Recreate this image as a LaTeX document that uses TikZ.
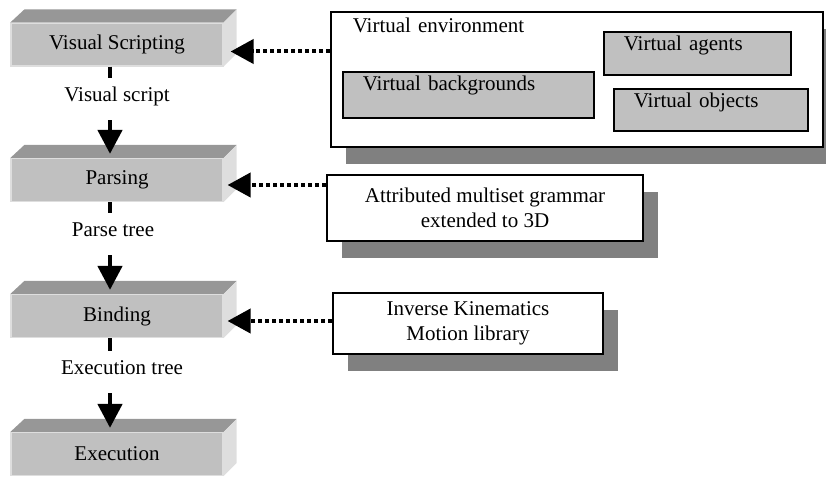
\documentclass[tikz,border=0pt]{standalone}
\usepackage{fontspec}
\setmainfont{Liberation Serif}
\usetikzlibrary{arrows.meta,shadows}
\definecolor{barfront}{HTML}{C0C0C0}
\definecolor{bartop}{HTML}{979797}
\definecolor{barside}{HTML}{DEDEDE}
\definecolor{shadowgray}{HTML}{808080}
\tikzset{
  stage/.style={fill=barfront,draw=barside,line width=1.2pt,minimum width=212pt,minimum height=43pt,inner sep=0pt},
  flowlabel/.style={anchor=north,inner xsep=2pt,inner ysep=8pt,text height=15pt,text depth=11pt},
  flow/.style={line width=4.5pt,-{Triangle[length=24pt,width=24pt]}},
  stub/.style={line width=4.5pt},
  refarrow/.style={line width=4pt,dash pattern=on 4pt off 3pt,-{Triangle[length=23pt,width=24pt]}},
  refbox/.style={draw,fill=white,line width=1.6pt,align=center,inner sep=0pt,
    drop shadow={shadow xshift=15pt,shadow yshift=-17pt,fill=shadowgray,opacity=1}},
  partbox/.style={draw,fill=barfront,line width=1.6pt,anchor=north west,align=left,
    inner xsep=20pt,inner ysep=4pt,text height=15pt},
}
\begin{document}
\begin{tikzpicture}[x=1pt,y=1pt,font=\fontsize{21}{25}\selectfont]
\useasboundingbox (0,0) rectangle (826,-476);
% stages
\node[stage] (vs) at (117,-44.5) {Visual Scripting};
\node[stage] (pa) at (117,-180) {Parsing};
\node[stage] (bi) at (117,-316) {Binding};
\node[stage] (ex) at (117,-454) {Execution};
\foreach \n in {vs,pa,bi,ex}{
  \fill[bartop] (\n.north west) -- ++(14,13) -- ([shift={(13,13)}]\n.north east) -- (\n.north east) -- cycle;
  \fill[barside] (\n.north east) -- ++(13,13) -- ([shift={(13,13)}]\n.south east) -- (\n.south east) -- cycle;
}
% data between stages
\coordinate (axis) at (110,0);
\node[flowlabel] (vsl) at (117,-78) {Visual script};
\node[flowlabel] (pal) at (113,-213) {Parse tree};
\node[flowlabel] (bil) at (122,-351) {Execution tree};
\draw[stub] (vs.south -| axis) -- (vsl.north -| axis);
\draw[flow] (vsl.south -| axis) -- ([yshift=4pt]pa.north -| axis);
\draw[stub] (pa.south -| axis) -- (pal.north -| axis);
\draw[flow] (pal.south -| axis) -- ([yshift=4pt]bi.north -| axis);
\draw[stub] (bi.south -| axis) -- (bil.north -| axis);
\draw[flow] (bil.south -| axis) -- ([yshift=4pt]ex.north -| axis);
% resources
\node[refbox,anchor=north west,align=left,inner xsep=22pt,inner ysep=4pt,text width=448pt,
  text height=17pt,text depth=110pt] (venv) at (330,-11) {Virtual environment};
\node[partbox,text width=147pt,text depth=20pt] (agents) at (603,-31) {Virtual agents};
\node[partbox,text width=211pt,text depth=23pt] (backs) at (342,-71) {Virtual backgrounds};
\node[partbox,text width=154pt,text depth=19pt] (objs) at (613,-88) {Virtual objects};
\node[refbox,minimum width=316pt,minimum height=66pt] (amg) at (485,-208) {Attributed multiset grammar\\extended to 3D};
\node[refbox,minimum width=270pt,minimum height=61pt] (ik) at (468,-323.5) {Inverse Kinematics\\Motion library};
\coordinate (vsin) at ([shift={(7,-7)}]vs.east);
\coordinate (pain) at ([shift={(4,-5)}]pa.east);
\coordinate (biin) at ([shift={(4,-5)}]bi.east);
\draw[refarrow] (venv.west |- vsin) -- (vsin);
\draw[refarrow] (amg.west |- pain) -- (pain);
\draw[refarrow] (ik.west |- biin) -- (biin);
\end{tikzpicture}
\end{document}
